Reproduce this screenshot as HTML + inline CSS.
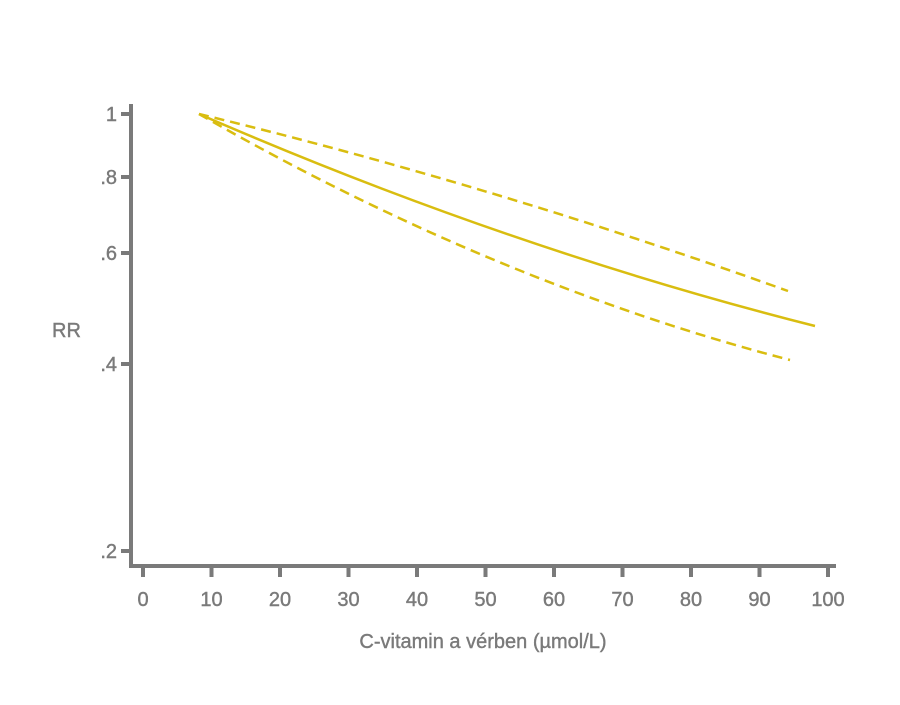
<!DOCTYPE html>
<html><head><meta charset="utf-8"><style>
html,body{margin:0;padding:0;background:#fff;}
svg text{font-family:"Liberation Sans",sans-serif;fill:#7a7a7a;stroke:#7a7a7a;stroke-width:0.4;}
</style></head><body>
<svg width="900" height="700" viewBox="0 0 900 700" xmlns="http://www.w3.org/2000/svg">
<g stroke="#7a7a7a" stroke-width="4" fill="none">
<line x1="131" y1="104" x2="131" y2="568"/>
<line x1="129" y1="566" x2="836" y2="566"/>
<line x1="121" y1="114" x2="131" y2="114"/>
<line x1="121" y1="177" x2="131" y2="177"/>
<line x1="121" y1="253" x2="131" y2="253"/>
<line x1="121" y1="364" x2="131" y2="364"/>
<line x1="121" y1="551" x2="131" y2="551"/>
<line x1="143" y1="566" x2="143" y2="577"/>
<line x1="211.5" y1="566" x2="211.5" y2="577"/>
<line x1="280" y1="566" x2="280" y2="577"/>
<line x1="348.5" y1="566" x2="348.5" y2="577"/>
<line x1="417" y1="566" x2="417" y2="577"/>
<line x1="485.5" y1="566" x2="485.5" y2="577"/>
<line x1="554" y1="566" x2="554" y2="577"/>
<line x1="622.5" y1="566" x2="622.5" y2="577"/>
<line x1="691" y1="566" x2="691" y2="577"/>
<line x1="759.5" y1="566" x2="759.5" y2="577"/>
<line x1="828" y1="566" x2="828" y2="577"/>
</g>
<g font-size="20" text-anchor="end">
<text x="117" y="121">1</text>
<text x="117" y="184">.8</text>
<text x="117" y="260">.6</text>
<text x="117" y="371">.4</text>
<text x="117" y="558">.2</text>
</g>
<text x="52" y="337" font-size="20">RR</text>
<g font-size="20" text-anchor="middle">
<text x="143" y="606">0</text>
<text x="211.5" y="606">10</text>
<text x="280" y="606">20</text>
<text x="348.5" y="606">30</text>
<text x="417" y="606">40</text>
<text x="485.5" y="606">50</text>
<text x="554" y="606">60</text>
<text x="622.5" y="606">70</text>
<text x="691" y="606">80</text>
<text x="759.5" y="606">90</text>
<text x="828" y="606">100</text>
</g>
<text x="483" y="648" font-size="20" text-anchor="middle">C-vitamin a vérben (µmol/L)</text>
<g stroke="#d9bd10" stroke-width="2.5" fill="none">
<path d="M199 114 Q507 248 815 326"/>
<path d="M199 114 Q493 185 788 291" stroke-dasharray="10 6"/>
<path d="M199 114 Q494 283 790 360" stroke-dasharray="10 6"/>
</g>
</svg>
</body></html>
